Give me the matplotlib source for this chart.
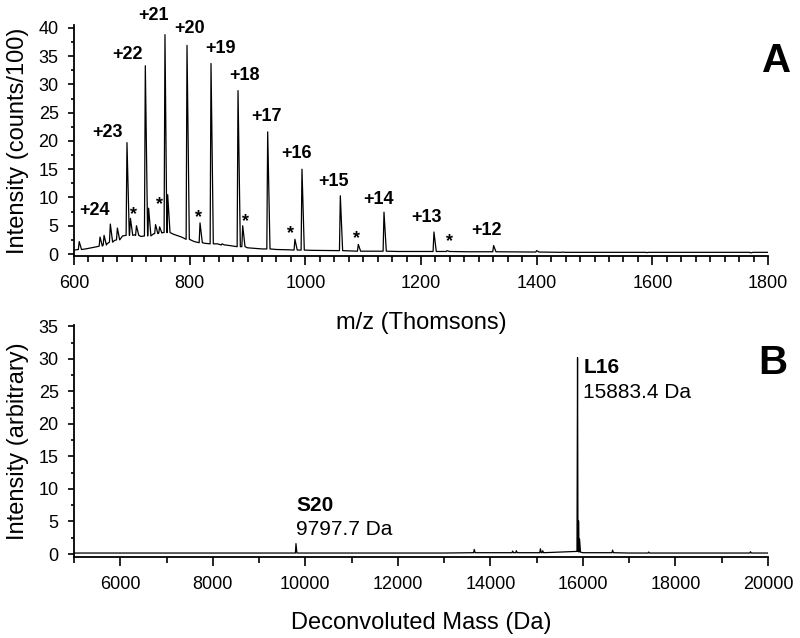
import matplotlib
matplotlib.use("Agg")
import matplotlib.pyplot as plt
from matplotlib.ticker import MultipleLocator
import numpy as np

plt.rcParams["font.family"] = ["Liberation Sans", "DejaVu Sans"]

# ---- panel A: raw m/z spectrum ----
base_mz = [600, 620, 640, 657, 670, 684, 705, 716, 738, 753, 772, 786, 808, 826,
           848, 862, 876, 900, 925, 950, 970, 1010, 1050, 1100, 1160, 1200, 1280,
           1380, 1500, 1650, 1800]
base_int = [0.7, 0.9, 1.3, 1.8, 2.4, 3.2, 3.4, 3.1, 3.6, 3.8, 3.5, 3.0, 2.2, 1.9,
            1.8, 1.6, 1.4, 1.1, 0.9, 0.8, 0.75, 0.65, 0.6, 0.5, 0.45, 0.45, 0.4,
            0.35, 0.3, 0.3, 0.3]

# charge-state peaks
charges = ["+24", "+23", "+22", "+21", "+20", "+19", "+18", "+17", "+16", "+15",
           "+14", "+13", "+12"]
peak_mz = [662.8, 691.6, 723.3, 757.3, 795.4, 836.9, 883.6, 934.9, 994.2, 1060.5,
           1136.0, 1222.4, 1325.6]
peak_int = [5.3, 19.7, 33.3, 38.8, 36.9, 33.7, 28.9, 21.6, 15.0, 10.3, 7.4, 3.9, 1.5]
peak_foot = [2.1, 3.3, 3.2, 3.8, 2.6, 1.8, 1.3, 0.9, 0.7, 0.6, 0.5, 0.45, 0.4]
label_mz = [636, 658, 692, 738, 799, 854, 894, 933, 984, 1048, 1126, 1210, 1314]
label_int = [7.7, 21.5, 35.3, 42.2, 39.8, 36.3, 31.5, 24.4, 17.7, 12.8, 9.6, 6.4, 4.1]

# asterisk (adduct) peaks
sat_mz = [697.6, 729.0, 762.0, 817.9, 891.7, 982.0, 1091.6, 1245.0]
sat_int = [6.3, 8.1, 10.5, 5.5, 5.0, 2.6, 1.7, 0.6]
sat_foot = [3.3, 3.2, 3.8, 2.0, 1.3, 0.7, 0.5, 0.45]
star_mz = [702.5, 747, 815.6, 897.4, 975.2, 1089.3, 1249]
star_int = [7.8, 9.6, 7.3, 6.5, 4.4, 3.5, 3.0]

# small unlabelled peaks
minor_mz = [609, 645, 652, 675, 708, 741, 748, 856, 1400, 1445, 1590, 1770]
minor_int = [2.2, 3.0, 3.3, 4.6, 5.0, 5.2, 4.8, 1.8, 0.6, 0.35, 0.25, 0.2]
minor_foot = [0.8, 1.4, 1.6, 2.5, 3.3, 3.6, 3.7, 1.6, 0.35, 0.3, 0.3, 0.3]

# ---- panel B: deconvoluted spectrum ----
base_da = [5000, 6000, 7000, 8000, 9000, 10000, 11000, 12000, 13000, 14000,
           15000, 16000, 17000, 18000, 19000, 20000]
base_b = [0.15, 0.15, 0.15, 0.15, 0.15, 0.15, 0.15, 0.15, 0.15, 0.2,
          0.2, 0.2, 0.15, 0.15, 0.15, 0.15]
pk_da = [9797.7, 13650, 14480, 14560, 15080, 15130, 15883.4, 15905, 15925,
         16640, 17420, 19620]
pk_b = [1.6, 0.7, 0.45, 0.5, 0.8, 0.5, 30.2, 5.1, 2.3, 0.6, 0.3, 0.35]
pk_b_foot = [0.15, 0.2, 0.2, 0.2, 0.2, 0.2, 0.4, 0.4, 0.3, 0.2, 0.15, 0.15]


def build_trace(bx, by, groups, left, right):
    xs, ys = list(bx), list(by)
    for px, ph, pf in groups:
        for x, h, f in zip(px, ph, pf):
            xs += [x - left, x, x + right]
            ys += [f, h, f]
    order = np.argsort(xs, kind="stable")
    return np.array(xs)[order], np.array(ys)[order]


def style_axes(ax):
    ax.patch.set_visible(False)
    ax.spines["top"].set_visible(False)
    ax.spines["right"].set_visible(False)
    ax.spines["left"].set_linewidth(1.3)
    ax.spines["bottom"].set_linewidth(1.3)
    ax.tick_params(axis="both", which="both", direction="out", labelsize=13,
                   width=1.2)
    ax.tick_params(axis="x", which="major", length=6.5, pad=7.5)
    ax.tick_params(axis="x", which="minor", length=4)
    ax.tick_params(axis="y", which="major", length=4.5, pad=6.5)
    ax.tick_params(axis="y", which="minor", length=2.5)


fig = plt.figure(figsize=(8, 6.38), dpi=100)

ax1 = fig.add_axes([74 / 800, 1 - 256 / 638, 694 / 800, 231 / 638])
x1, y1 = build_trace(base_mz, base_int,
                     [(peak_mz, peak_int, peak_foot),
                      (sat_mz, sat_int, sat_foot),
                      (minor_mz, minor_int, minor_foot)], 1.5, 4.0)
ax1.plot(x1, y1, color="black", lw=0.9)
ax1.set_xlim(600, 1800)
ax1.set_ylim(-0.35, 40.5)
ax1.xaxis.set_major_locator(MultipleLocator(200))
ax1.xaxis.set_minor_locator(MultipleLocator(25))
ax1.yaxis.set_major_locator(MultipleLocator(5))
ax1.yaxis.set_minor_locator(MultipleLocator(2.5))
style_axes(ax1)
ax1.set_xlabel("m/z (Thomsons)", fontsize=17, labelpad=14)
ax1.set_ylabel("Intensity (counts/100)", fontsize=17, labelpad=7)
for lab, x, y in zip(charges, label_mz, label_int):
    ax1.text(x, y, lab, fontsize=13, fontweight="bold", ha="center", va="center",
             clip_on=False)
for x, y in zip(star_mz, star_int):
    ax1.text(x, y - 0.8, "*", fontsize=13, fontweight="bold", ha="center",
             va="center")
fig.text(777 / 800, 1 - 61 / 638, "A", fontsize=29, fontweight="bold",
         ha="center", va="center")

ax2 = fig.add_axes([74 / 800, 1 - 557 / 638, 694 / 800, 232 / 638])
x2, y2 = build_trace(base_da, base_b, [(pk_da, pk_b, pk_b_foot)], 12, 20)
ax2.plot(x2, y2, color="black", lw=0.9)
ax2.set_xlim(5000, 20000)
ax2.set_ylim(-0.46, 35.2)
ax2.xaxis.set_major_locator(MultipleLocator(2000))
ax2.xaxis.set_minor_locator(MultipleLocator(1000))
ax2.yaxis.set_major_locator(MultipleLocator(5))
ax2.yaxis.set_minor_locator(MultipleLocator(2.5))
style_axes(ax2)
ax2.set_xlabel("Deconvoluted Mass (Da)", fontsize=17, labelpad=13)
ax2.set_ylabel("Intensity (arbitrary)", fontsize=17, labelpad=7)
ax2.text(16010, 28.6, "L16", fontsize=15, fontweight="bold", ha="left", va="center")
ax2.text(16010, 24.8, "15883.4 Da", fontsize=15, ha="left", va="center")
ax2.text(9800, 7.4, "S20", fontsize=15, fontweight="bold", ha="left", va="center")
ax2.text(9800, 3.8, "9797.7 Da", fontsize=15, ha="left", va="center")
fig.text(773 / 800, 1 - 363 / 638, "B", fontsize=29, fontweight="bold",
         ha="center", va="center")

fig.savefig("out.png", dpi=100)
